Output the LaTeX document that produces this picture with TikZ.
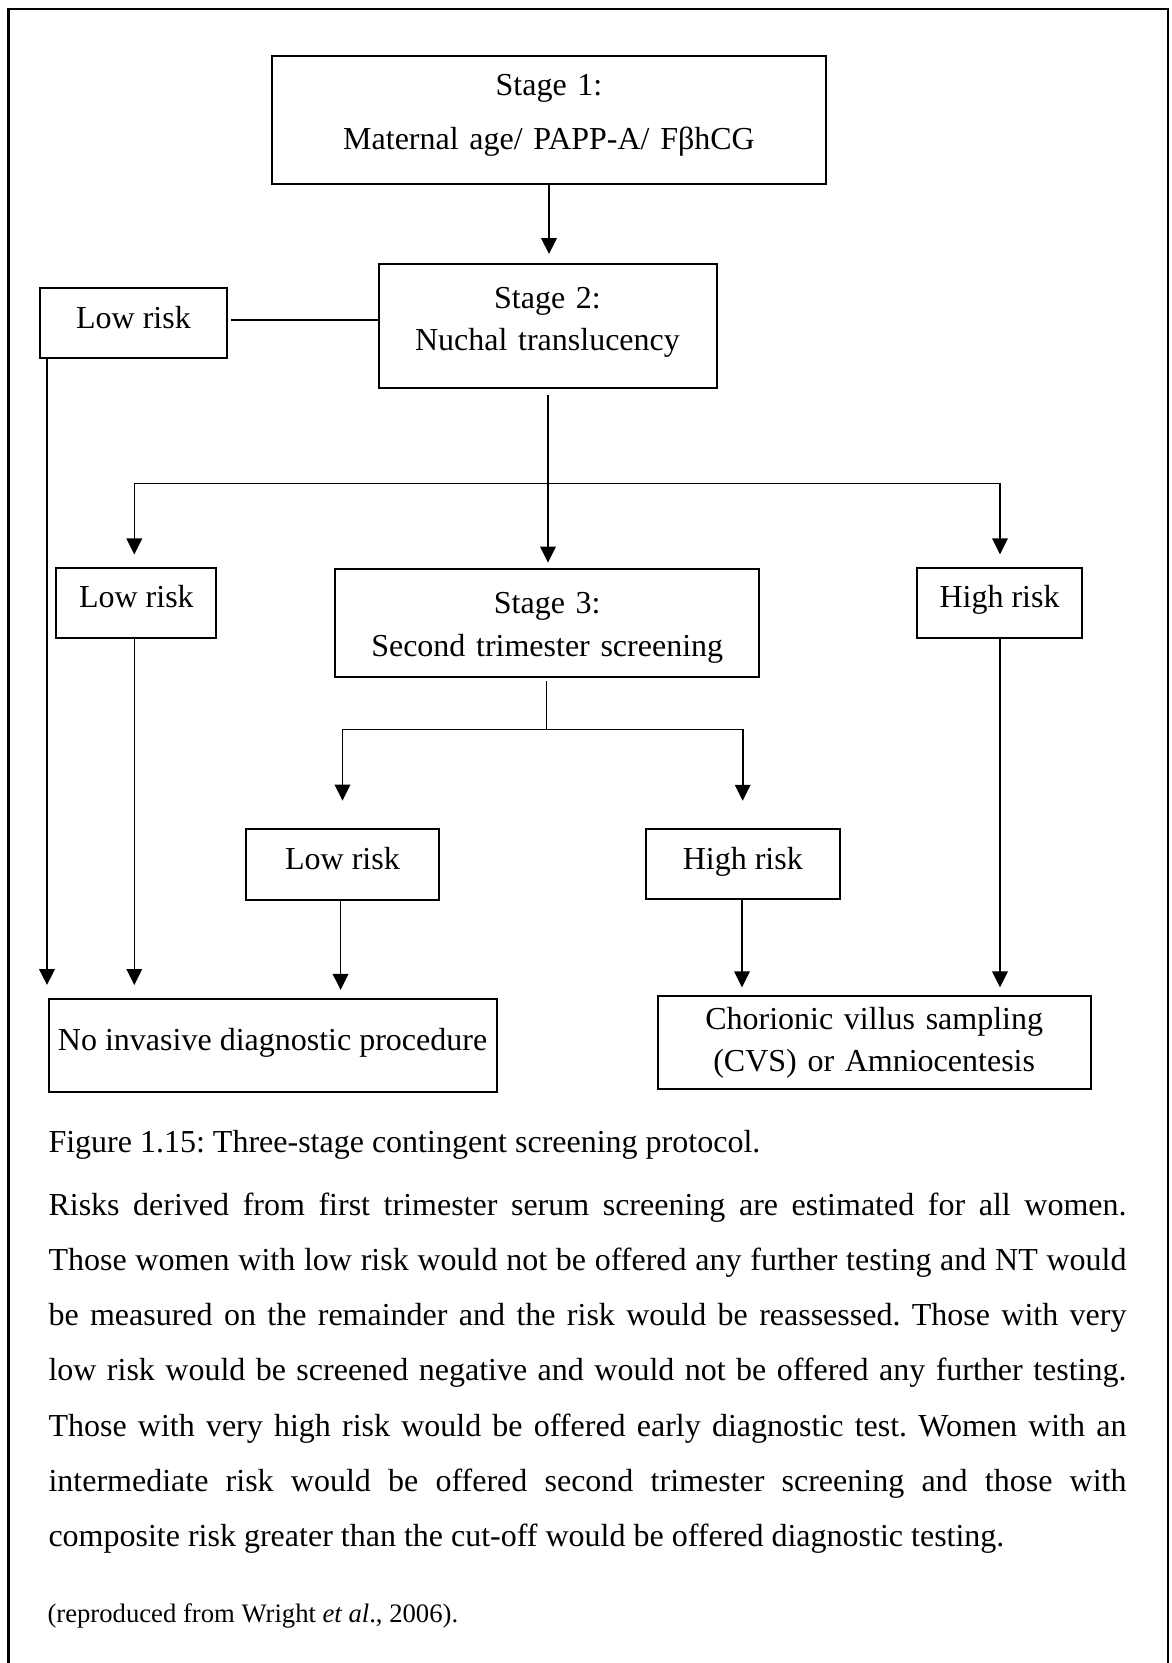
\documentclass[tikz,border=0pt]{standalone}
\usepackage{fontspec}
\setmainfont{Liberation Serif}
\usetikzlibrary{arrows.meta}
\frenchspacing
\begin{document}
\begin{tikzpicture}[x=0.375pt,y=-0.375pt,
  box/.style={draw, line width=0.75pt, inner sep=0pt, outer sep=0pt, align=center,
    font=\fontsize{12}{14}\selectfont, text height=9pt, text depth=5.25pt},
  sz/.style 2 args={minimum width=#1*0.375pt, minimum height=#2*0.375pt},
  tw/.style={text width=#1*0.375pt},
  ln/.style={line width=0.6pt},
  arr/.style={ln, -{Triangle[width=5.85pt,length=6pt]}},
  para/.style={anchor=base west, inner sep=0pt, font=\fontsize{12}{14}\selectfont},
  framestyle/.style={line width=0.9pt}
]
\useasboundingbox (0,0) rectangle (1172,1663);
\draw[framestyle] (8.5,1663) -- (8.5,9) -- (1168,9) -- (1168,1663);

% boxes
\node[box, sz={554}{128}, tw=554, font=\fontsize{12}{20.6}\selectfont, text depth=27.75pt] (s1) at (549,120) {Stage 1:\\ Maternal age/ PAPP-A/ FβhCG};
\node[box, sz={338}{124}, tw=338, font=\fontsize{12}{16}\selectfont, text depth=22.4pt] (s2) at (547.5,326) {Stage 2:\\ Nuchal translucency};
\node[box, sz={187}{70}] (lr1) at (133.5,323) {Low risk};
\node[box, sz={160}{70}] (lr2) at (136.4,602.5) {Low risk};
\node[box, sz={424.5}{107.4}, tw=424.5, font=\fontsize{12}{16.3}\selectfont, text depth=16.3pt] (s3) at (547.2,623) {Stage 3:\\ Second trimester screening};
\node[box, sz={165}{70}] (hr1) at (999.5,602.5) {High risk};
\node[box, sz={193}{71}] (lr3) at (342.5,864.7) {Low risk};
\node[box, sz={194}{70}] (hr2) at (742.8,864.3) {High risk};
\node[box, sz={448}{93}] (ni) at (272.6,1045.5) {No invasive diagnostic procedure};
\node[box, sz={433}{93.6}, tw=433, font=\fontsize{12}{15.75}\selectfont, text depth=18.4pt] (cvs) at (874.2,1042.5) {Chorionic villus sampling\\ (CVS) or Amniocentesis};

% helper coordinates
\coordinate (hA) at (300,320);
\coordinate (xL) at (47,0);
\coordinate (xC) at (548,0);
\coordinate (b1L) at (134.3,483.3);
\coordinate (b1R) at (1000,483.3);
\coordinate (b2C) at (546.5,729.3);
\coordinate (b2L) at (342.5,729.3);
\coordinate (b2R) at (742.7,729.3);
\coordinate (xD) at (340.6,0);
\coordinate (xE) at (742,0);

% connectors
\draw[arr, shorten >=3.75pt] (s1.south) -- (s1.south |- s2.north);
\draw[ln, shorten <=1.5pt] (lr1.east |- hA) -- (s2.west |- hA);
\draw[arr, shorten >=5.25pt] (lr1.south -| xL) -- (xL |- ni.north);
\draw[arr, shorten <=2.74pt, shorten >=2.5pt] (s2.south -| xC) -- (xC |- s3.north);
\draw[ln] (b1L) -- (b1R);
\draw[arr, shorten >=4.9pt] (b1L) -- (b1L |- lr2.north);
\draw[arr, shorten >=4.9pt] (b1R) -- (b1R |- hr1.north);
\draw[ln, shorten <=1.6pt] (s3.south -| b2C) -- (b2C);
\draw[ln] (b2L) -- (b2R);
\draw[arr, shorten >=10.7pt] (b2L) -- (b2L |- lr3.north);
\draw[arr, shorten >=10.7pt] (b2R) -- (b2R |- hr2.north);
\draw[arr, shorten >=5.25pt] (lr2.south -| b1L) -- (b1L |- ni.north);
\draw[arr, shorten >=3.4pt] (lr3.south -| xD) -- (xD |- ni.north);
\draw[arr, shorten >=3.1pt] (hr2.south -| xE) -- (xE |- cvs.north);
\draw[arr, shorten >=3.1pt] (hr1.south -| b1R) -- (b1R |- cvs.north);

% caption and text
\node[para] (cap) at (48,1152.3) {Figure 1.15: Three-stage contingent screening protocol.};
\node[para] (p1) at (48,1215.2) {\makebox[404.25pt][s]{Risks derived from first trimester serum screening are estimated for all women.}};
\node[para] (p2) at (48,1270.4) {\makebox[404.25pt][s]{Those women with low risk would not be offered any further testing and NT would}};
\node[para] (p3) at (48,1325.6) {\makebox[404.25pt][s]{be measured on the remainder and the risk would be reassessed. Those with very}};
\node[para] (p4) at (48,1380.8) {\makebox[404.25pt][s]{low risk would be screened negative and would not be offered any further testing.}};
\node[para] (p5) at (48,1436.0) {\makebox[404.25pt][s]{Those with very high risk would be offered early diagnostic test. Women with an}};
\node[para] (p6) at (48,1491.2) {\makebox[404.25pt][s]{intermediate risk would be offered second trimester screening and those with}};
\node[para] (p7) at (48,1546.4) {composite risk greater than the cut-off would be offered diagnostic testing.};
\node[para, font=\fontsize{10}{12}\selectfont] (src) at (47,1622.5) {(reproduced from Wright \textit{et al}., 2006).};
\end{tikzpicture}
\end{document}
